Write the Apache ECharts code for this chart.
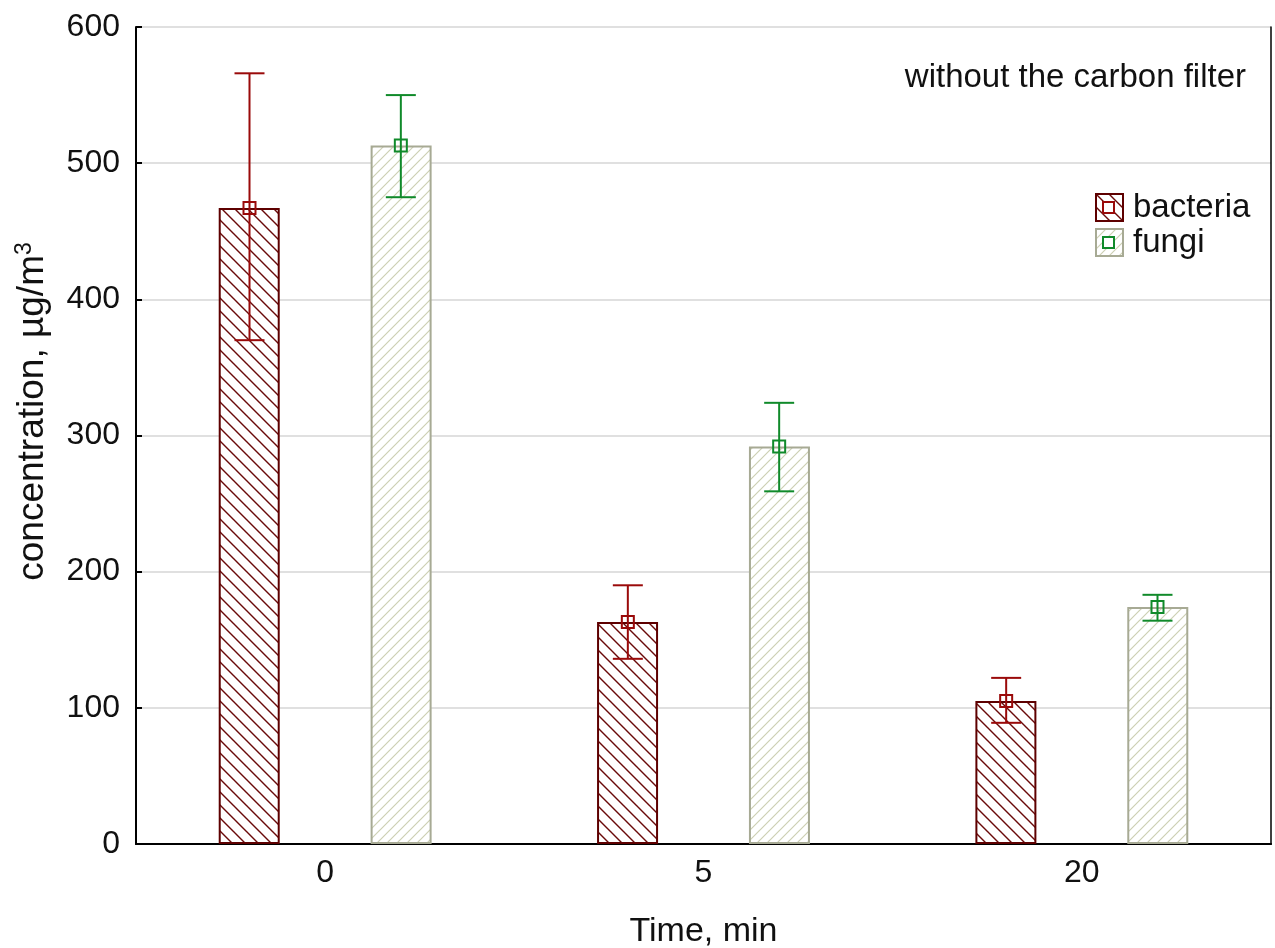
<!DOCTYPE html>
<html>
<head>
<meta charset="utf-8">
<script src="https://cdn.jsdelivr.net/npm/echarts@6/dist/echarts.min.js"></script>
<style>
html, body { margin: 0; padding: 0; background: #fff; }
#chart { width: 1275px; height: 948px; }
</style>
</head>
<body>
<div id="chart"></div>
<script>
var times = ['0', '5', '20'];

var bacteriaMean = [467, 163, 105];
var bacteriaLow  = [370, 136, 89];
var bacteriaHigh = [566, 190, 122];

var fungiMean = [513, 292, 174];
var fungiLow  = [475, 259, 164];
var fungiHigh = [550, 324, 183];

var FONT = '"Liberation Sans", Arial, sans-serif';
var TXT = '#111';

// diagonal hatch tile, dir 1 = '/', -1 = '\'
function hatch(size, color, width, dir) {
    var c = document.createElement('canvas');
    c.width = size;
    c.height = size;
    var ctx = c.getContext('2d');
    ctx.fillStyle = '#fff';
    ctx.fillRect(0, 0, size, size);
    ctx.strokeStyle = color;
    ctx.lineWidth = width;
    ctx.beginPath();
    if (dir > 0) {
        ctx.moveTo(-2, size + 2); ctx.lineTo(size + 2, -2);
        ctx.moveTo(-2, 2); ctx.lineTo(2, -2);
        ctx.moveTo(size - 2, size + 2); ctx.lineTo(size + 2, size - 2);
    } else {
        ctx.moveTo(-2, -2); ctx.lineTo(size + 2, size + 2);
        ctx.moveTo(size - 2, -2); ctx.lineTo(size + 2, 2);
        ctx.moveTo(-2, size - 2); ctx.lineTo(2, size + 2);
    }
    ctx.stroke();
    return c;
}

var bactFill = { image: hatch(13, '#6a0a0a', 1.4, -1), repeat: 'repeat' };
var fungFill = { image: hatch(10, '#cdd0b4', 1.2, 1), repeat: 'repeat' };

function errorSeries(name, low, high, mean, color, side) {
    return {
        type: 'custom',
        name: name,
        z: 5,
        data: times.map(function (t, i) { return [i, low[i], high[i], mean[i]]; }),
        renderItem: function (params, api) {
            var off = side * api.size([1, 0])[0] * 0.2;
            var x = api.coord([api.value(0), 0])[0] + off;
            var yl = api.coord([api.value(0), api.value(1)])[1];
            var yh = api.coord([api.value(0), api.value(2)])[1];
            var ym = api.coord([api.value(0), api.value(3)])[1];
            var cap = 15;
            var st = { stroke: color, lineWidth: 2, fill: null };
            return {
                type: 'group',
                children: [
                    { type: 'line', shape: { x1: x, y1: yh, x2: x, y2: yl }, style: st },
                    { type: 'line', shape: { x1: x - cap, y1: yh, x2: x + cap, y2: yh }, style: st },
                    { type: 'line', shape: { x1: x - cap, y1: yl, x2: x + cap, y2: yl }, style: st },
                    { type: 'rect', shape: { x: x - 6, y: ym - 6, width: 12, height: 12 },
                      style: { stroke: color, lineWidth: 2, fill: 'rgba(0,0,0,0)' } }
                ]
            };
        }
    };
}

var myChart = echarts.init(document.getElementById('chart'));

var option = {
    animation: false,
    backgroundColor: '#fff',
    textStyle: { fontFamily: FONT },
    title: {
        text: 'without the carbon filter',
        right: 24,
        top: 56,
        textStyle: { fontFamily: FONT, fontSize: 33, fontWeight: 'normal', color: TXT }
    },
    legend: {
        orient: 'vertical',
        left: 1090,
        top: 186,
        icon: 'rect',
        itemWidth: 27,
        itemHeight: 27,
        itemGap: 2,
        data: ['bacteria', 'fungi'],
        textStyle: { fontFamily: FONT, fontSize: 33, color: TXT, lineHeight: 30, padding: [0, 0, 0, 5] }
    },
    // small mean markers inside the legend keys
    graphic: [
        { type: 'rect', shape: { x: 1103, y: 202, width: 11, height: 11 },
          style: { stroke: '#9a0a0a', lineWidth: 2, fill: '#fff' }, z: 100 },
        { type: 'rect', shape: { x: 1103, y: 237, width: 11, height: 11 },
          style: { stroke: '#108a2a', lineWidth: 2, fill: '#fff' }, z: 100 }
    ],
    grid: {
        left: 136,
        right: 4,
        top: 27,
        bottom: 104,
        containLabel: false,
        outerBoundsMode: 'none'
    },
    xAxis: [{
        type: 'category',
        data: times,
        name: 'Time, min',
        nameLocation: 'middle',
        nameGap: 71,
        nameTextStyle: { fontFamily: FONT, fontSize: 34, color: TXT },
        axisLine: { lineStyle: { color: '#000', width: 2 } },
        axisTick: { alignWithLabel: true, inside: true, length: 7, lineStyle: { color: '#000', width: 2 } },
        axisLabel: { fontFamily: FONT, fontSize: 32, color: TXT, margin: 13 }
    }, {
        type: 'category',
        data: times,
        position: 'top',
        axisLine: { lineStyle: { color: '#000', width: 1.5 } },
        axisTick: { show: false },
        axisLabel: { show: false }
    }],
    yAxis: [{
        type: 'value',
        min: 0,
        max: 600,
        interval: 100,
        name: 'concentration, µg/m{sup|3}',
        nameLocation: 'middle',
        nameGap: 84,
        nameTextStyle: {
            fontFamily: FONT, fontSize: 37, color: TXT,
            padding: [0, 0, 0, 48],
            rich: { sup: { fontFamily: FONT, fontSize: 23, color: TXT, verticalAlign: 'top', padding: [0, 0, 16, 0] } }
        },
        axisLine: { show: true, lineStyle: { color: '#000', width: 2 } },
        axisTick: { show: true, inside: true, length: 6, lineStyle: { color: '#000', width: 2 } },
        axisLabel: { fontFamily: FONT, fontSize: 32, color: TXT, margin: 16 },
        splitLine: { lineStyle: { color: '#d6d6d6', width: 1.5 } }
    }, {
        type: 'value',
        min: 0,
        max: 600,
        interval: 100,
        position: 'right',
        axisLine: { show: true, lineStyle: { color: '#000', width: 1.5 } },
        axisTick: { show: false },
        axisLabel: { show: false },
        splitLine: { show: false }
    }],
    series: [{
        type: 'bar',
        name: 'bacteria',
        data: bacteriaMean,
        barWidth: 61,
        barGap: '149%',
        itemStyle: { color: bactFill, borderColor: '#5e0000', borderWidth: 2 }
    }, {
        type: 'bar',
        name: 'fungi',
        data: fungiMean,
        barWidth: 61,
        itemStyle: { color: fungFill, borderColor: '#a7aa94', borderWidth: 2 }
    },
    errorSeries('bacteria error', bacteriaLow, bacteriaHigh, bacteriaMean, '#9a0a0a', -1),
    errorSeries('fungi error', fungiLow, fungiHigh, fungiMean, '#108a2a', 1)
    ]
};

myChart.setOption(option);
</script>
</body>
</html>
